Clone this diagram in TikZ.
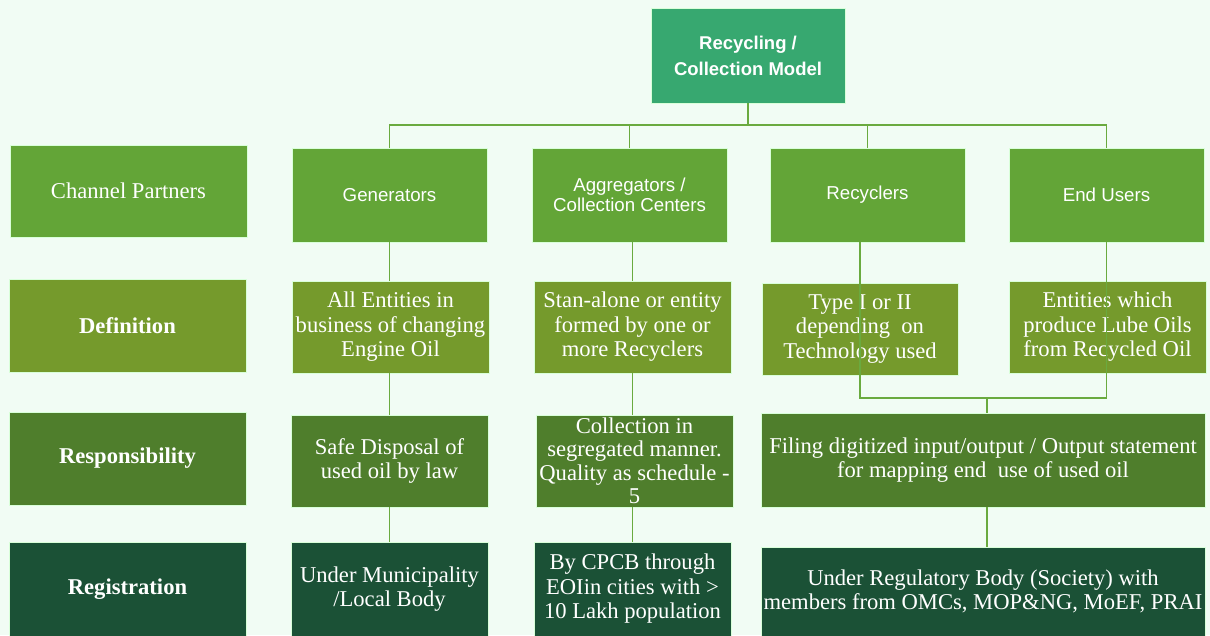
\documentclass[tikz,border=0pt]{standalone}
\usepackage{fontspec}
\setmainfont{Liberation Serif}
\newfontfamily\headfont{Liberation Sans}
\definecolor{bgmint}{HTML}{F1FCF4}
\definecolor{topgreen}{HTML}{37A870}
\definecolor{rowA}{HTML}{63A537}
\definecolor{rowB}{HTML}{759A2C}
\definecolor{rowC}{HTML}{4F7E2C}
\definecolor{rowD}{HTML}{1B5136}
\definecolor{linkgreen}{HTML}{6AAA3F}
\tikzset{
  box/.style={rectangle, draw=white!85!green, line width=0.8pt, text=white, align=center, inner sep=1pt},
  topbox/.style={box, fill=topgreen, font=\headfont\bfseries\fontsize{18.5}{26}\selectfont},
  headbox/.style={box, fill=rowA, font=\headfont\fontsize{18.7}{20}\selectfont},
  body/.style={font=\fontsize{22.6}{24.5}\selectfont},
  bodybold/.style={font=\bfseries\fontsize{22.6}{24.5}\selectfont},
  defbox/.style={box, body, fill=rowB},
  respbox/.style={box, body, fill=rowC},
  regbox/.style={box, body, fill=rowD},
  link/.style={draw=linkgreen, line width=1.3pt},
  wd/.style={minimum width=#1},
  ht/.style={minimum height=#1}
}
\begin{document}
\begin{tikzpicture}[x=1pt,y=-1pt]
\useasboundingbox (0,0) rectangle (1210,635);
\fill[bgmint] (0,0) rectangle (1210,635);

% junction points of the tree
\coordinate (bus) at (748,125);
\coordinate (rj) at (987,398);

% root
\node[topbox, wd=194, ht=95] (top) at (748,55.5) {Recycling /\\Collection Model};

% channel partner row
\node[box, body, fill=rowA, wd=237, ht=92] (cp) at (128.5,191) {Channel Partners};
\node[headbox, wd=195, ht=94] (gen) at (389.5,195) {Generators};
\node[headbox, wd=195, ht=94] (agg) at (629.5,195) {Aggregators /\\Collection Centers};
\node[headbox, wd=195, ht=94] (rec) at (867.5,195) {Recyclers};
\node[headbox, wd=195, ht=94] (end) at (1106.5,195) {End Users};

% definition row
\node[defbox, bodybold, wd=237, ht=93] (deflab) at (127.5,325.5) {Definition};
\node[defbox, wd=197, ht=92] (gdef) at (390.5,327) {All Entities in\\business of changing\\Engine Oil};
\node[defbox, wd=197, ht=92] (adef) at (632.5,327) {Stan-alone or entity\\formed by one or\\more Recyclers};
\node[defbox, wd=196, ht=92] (rdef) at (860,329) {Type I or II\\depending\ \ on\\Technology used};
\node[defbox, wd=197, ht=92] (edef) at (1107.5,327) {Entities which\\produce Lube Oils\\from Recycled Oil};

% responsibility row
\node[respbox, bodybold, wd=237, ht=93] (resplab) at (127.5,458.5) {Responsibility};
\node[respbox, wd=197, ht=92] (gresp) at (389.5,461) {Safe Disposal of\\used oil by law};
\node[respbox, wd=197, ht=92, font=\fontsize{22.6}{23.5}\selectfont] (aresp) at (634.5,461) {Collection in\\segregated manner.\\Quality as schedule -\\5};
\node[respbox, wd=444, ht=94] (rresp) at (983,460) {Filing digitized input/output / Output statement\\for mapping end\ \ use of used oil};

% registration row
\node[regbox, bodybold, wd=237, ht=94] (reglab) at (127.5,589) {Registration};
\node[regbox, wd=197, ht=94] (greg) at (389.5,589) {Under Municipality\\/Local Body};
\node[regbox, wd=197, ht=94] (areg) at (632.5,589) {By CPCB through\\EOIin cities with >\\10 Lakh population};
\node[regbox, wd=444, ht=89] (rreg) at (983,591.5) {Under Regulatory Body (Society) with\\members from OMCs, MOP\&NG, MoEF, PRAI};

% tree connectors
\draw[link] (top.south) -- (bus);
\draw[link] (gen.north) |- (bus) -| (end.north);
\draw[link] (agg.north) -- (agg.north |- bus);
\draw[link] (rec.north) -- (rec.north |- bus);

% generator column
\draw[link] (gen.south) -- (gdef.north -| gen.south);
\draw[link] (gdef.south -| gen.south) -- (gresp.north -| gen.south);
\draw[link] (gresp.south) -- (greg.north);

% aggregator column
\draw[link] (agg.south -| adef) -- (adef.north);
\draw[link] (adef.south) -- (aresp.north -| adef);
\draw[link] (aresp.south -| adef) -- (areg.north -| adef);

% recycler and end-user columns join above the shared boxes
\draw[link] (rec.south -| rdef) -- (rdef |- rj) -- (end |- rj) -- (end.south);
\draw[link] (rj) -- (rresp.north -| rj);
\draw[link] (rresp.south -| rj) -- (rreg.north -| rj);
\end{tikzpicture}
\end{document}
